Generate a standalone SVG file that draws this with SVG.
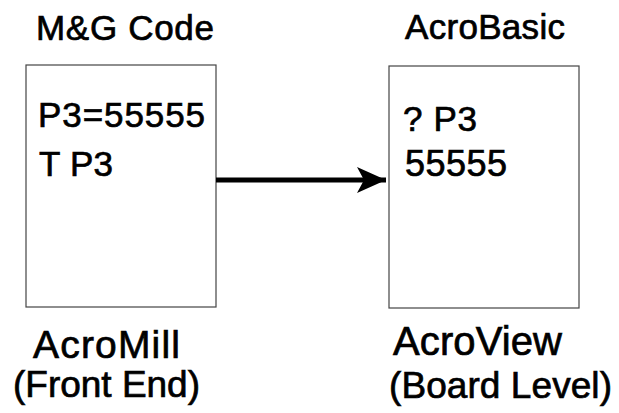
<svg xmlns="http://www.w3.org/2000/svg" width="619" height="413" viewBox="0 0 619 413">
<style>
.box{fill:#fff;stroke:#444;stroke-width:1.2}
.t{font-family:"Liberation Sans",Arial,sans-serif;fill:#000;stroke:#000;stroke-width:0.7}
.conn{stroke:#000;stroke-width:5;fill:none}
</style>
<defs>
<marker id="ah" markerUnits="userSpaceOnUse" markerWidth="32" markerHeight="28" refX="29" refY="14" orient="auto" overflow="visible">
<path d="M0,1 L29,14 L0,27 L7,14 Z" fill="#000"/>
</marker>
</defs>
<rect width="619" height="413" fill="#fff"/>
<g id="node-acromill">
<text class="t" x="36" y="40" font-size="35" textLength="178">M&amp;G Code</text>
<rect class="box" x="26" y="65" width="190" height="242"/>
<text class="t" x="38" y="127" font-size="35" textLength="167">P3=55555</text>
<text class="t" x="39" y="176" font-size="35" textLength="74">T P3</text>
<text class="t" x="33" y="358" font-size="39" textLength="147">AcroMill</text>
<text class="t" x="13" y="397" font-size="37" textLength="187">(Front End)</text>
</g>
<g id="node-acroview">
<text class="t" x="405" y="39" font-size="35" textLength="160">AcroBasic</text>
<rect class="box" x="389" y="66" width="190" height="242"/>
<text class="t" x="403" y="131" font-size="35" textLength="74">? P3</text>
<text class="t" x="405" y="176" font-size="36" textLength="102">55555</text>
<text class="t" x="393" y="355" font-size="40" textLength="169">AcroView</text>
<text class="t" x="389" y="398" font-size="37" textLength="223">(Board Level)</text>
</g>
<g id="connectors">
<line class="conn" x1="216" y1="180" x2="386" y2="180" marker-end="url(#ah)"/>
</g>
</svg>
